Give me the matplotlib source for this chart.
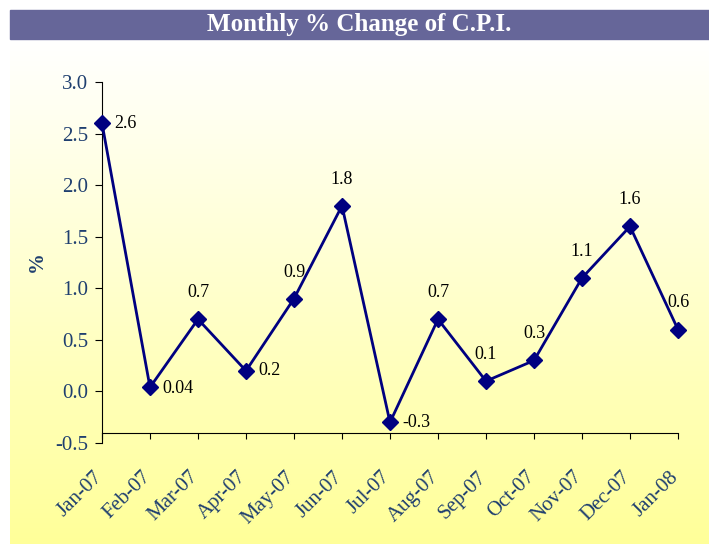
import matplotlib
matplotlib.use("Agg")
import matplotlib.pyplot as plt
import matplotlib.transforms as mtransforms
import numpy as np
from matplotlib.patches import Rectangle

months = ["Jan-07", "Feb-07", "Mar-07", "Apr-07", "May-07", "Jun-07", "Jul-07",
          "Aug-07", "Sep-07", "Oct-07", "Nov-07", "Dec-07", "Jan-08"]
values = [2.6, 0.04, 0.7, 0.2, 0.9, 1.8, -0.3, 0.7, 0.1, 0.3, 1.1, 1.6, 0.6]
labels = ["2.6", "0.04", "0.7", "0.2", "0.9", "1.8", "-0.3", "0.7", "0.1", "0.3", "1.1", "1.6", "0.6"]
yticks = [-0.5, 0.0, 0.5, 1.0, 1.5, 2.0, 2.5, 3.0]

W, H = 709, 544
fig = plt.figure(figsize=(W / 100, H / 100), dpi=100)
serif = ["Liberation Serif", "DejaVu Serif"]

# gradient background
bg = fig.add_axes([10 / W, 0, (W - 10) / W, (H - 40) / H])
grad = np.linspace(0, 1, 256).reshape(-1, 1)
c_top = np.array([1.0, 1.0, 1.0])
c_bot = np.array([1.0, 1.0, 0.6])
img = c_top + (c_bot - c_top) * grad[:, :, None]
bg.imshow(img, aspect="auto", extent=[0, 1, 0, 1], origin="upper")
bg.axis("off")

# title banner
fig.patches.append(Rectangle((10 / W, (H - 39) / H), (W - 10) / W, 29 / H,
                             transform=fig.transFigure, color="#666699", zorder=0))
fig.text((10 + W) / 2 / W, (H - 24) / H, "Monthly % Change of C.P.I.", color="white",
         fontsize=18, fontweight="bold", family=serif, ha="center", va="center")

ax = fig.add_axes([102 / W, (H - 443) / H, (678 - 102) / W, (443 - 82) / H])
ax.patch.set_alpha(0)
x = np.arange(len(months))
ax.plot(x, values, color="#000080", lw=2, marker="D", ms=8, mfc="#000080", mec="#000080",
        clip_on=False, zorder=5)
ax.set_xlim(0, 12)
ax.set_ylim(-0.5, 3.0)
ax.spines["top"].set_visible(False)
ax.spines["right"].set_visible(False)
ax.spines["bottom"].set_position(("data", -0.4))
ax.spines["left"].set_bounds(-0.5, 3.0)
ax.set_yticks(yticks)
ax.set_yticklabels([f"{v:.1f}" for v in yticks], family=serif, fontsize=15, color="#1F3F6F")
ax.set_xticks(x)
ax.set_xticklabels(months, family=serif, fontsize=15, color="#1F3F6F", rotation=45,
                   ha="right", va="top", rotation_mode="anchor")
ax.tick_params(axis="x", direction="out", length=4, pad=21, color="black")
ax.tick_params(axis="y", direction="out", length=5, pad=5, color="black")
shift = mtransforms.ScaledTranslation(-9 / 100, 0, fig.dpi_scale_trans)
for t in ax.get_xticklabels():
    t.set_transform(t.get_transform() + shift)
fig.text(37 / W, (H - 262) / H, "%", family=serif, fontsize=15, fontweight="bold",
         color="#1F3F6F", rotation=90, ha="center", va="center")

offsets = {0: (9, 0, "left", "center"), 1: (9, -1, "left", "center"),
           3: (9, 0, "left", "center"), 6: (9, 0, "left", "center")}
for i, (v, lab) in enumerate(zip(values, labels)):
    dx, dy, ha, va = offsets.get(i, (0, 13, "center", "bottom"))
    ax.annotate(lab, (i, v), xytext=(dx, dy), textcoords="offset points", ha=ha, va=va,
                family=serif, fontsize=13, color="black", zorder=6)

fig.savefig("out.png", dpi=100)
